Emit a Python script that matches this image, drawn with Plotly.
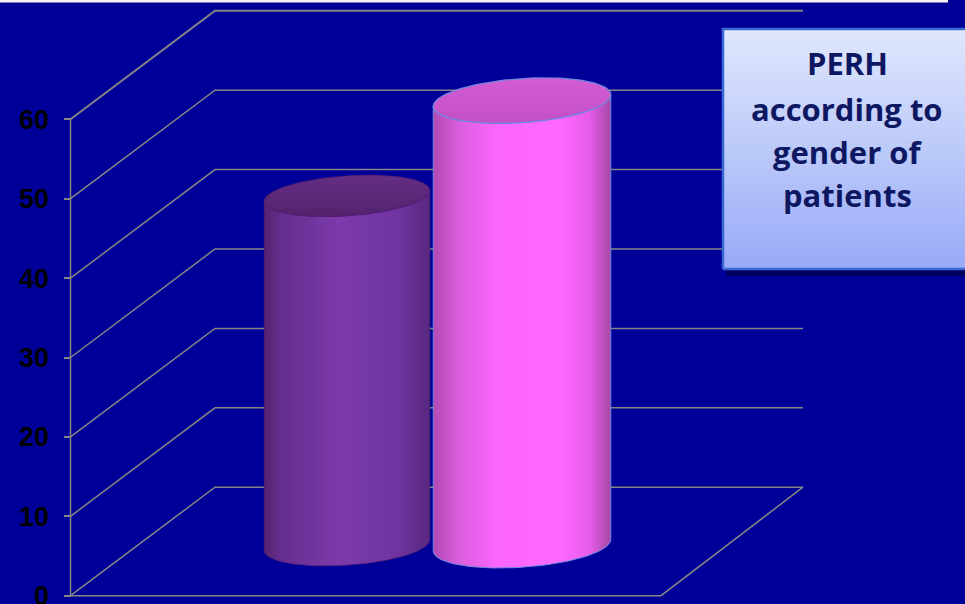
import numpy as np
import plotly.graph_objects as go

# ---- data -------------------------------------------------------------
categories = ["Male", "Female"]
values = [44, 56]
tick_values = [0, 10, 20, 30, 40, 50, 60]
title_lines = ["PERH", "according to", "gender of", "patients"]

# ---- layout constants (x in screen px, y in value units) ---------------
W, H = 965, 604
PX_PER_UNIT = 7.94
Y_ZERO_PX = 595.7                     # screen row of value 0 on the front axis
Y_MIN = -(H - Y_ZERO_PX) / PX_PER_UNIT
Y_MAX = Y_ZERO_PX / PX_PER_UNIT


def u(px):
    """screen pixels -> value units (vertical)"""
    return px / PX_PER_UNIT


AXIS_X = 70.5
FLOOR_RIGHT = 661.0
DEPTH_DX, DEPTH_DY = 143.0, u(108.5)
BACK_RIGHT = 803.0

BG = "#000098"
GRID = "#858585"

# cylinder styling
cyl_cx = [347, 522]
cyl_a = [83, 89]          # half width (px)
cyl_b = [20, 22]          # ellipse half height (px)
cyl_tilt = np.deg2rad(-4)
cyl_base = u(50.5)        # base centre raised by half the depth
side_scales = [
    [[0, "#542470"], [0.1, "#642d8e"], [0.45, "#7c3aaa"], [0.8, "#7034a2"], [1, "#582880"]],
    [[0, "#b24ab4"], [0.15, "#dc5ee0"], [0.38, "#fd66fd"], [0.7, "#ff68ff"], [0.88, "#e65ce8"], [1, "#a648a8"]],
]
top_scales = [
    [[0, "#53236c"], [1, "#652d86"]],
    [[0, "#c24fc6"], [1, "#d45cd6"]],
]
edge_colors = ["rgba(80,30,110,0.6)", "#7088e0"]

fig = go.Figure()

# ---- walls / grid -----------------------------------------------------
for v in tick_values:
    fig.add_trace(go.Scatter(
        x=[AXIS_X, AXIS_X + DEPTH_DX + 1.5, BACK_RIGHT],
        y=[v, v + DEPTH_DY, v + DEPTH_DY],
        mode="lines", line=dict(color=GRID, width=2 if v == tick_values[-1] else 1.5),
        hoverinfo="skip", showlegend=False))

# floor front + right edges
fig.add_trace(go.Scatter(
    x=[AXIS_X, FLOOR_RIGHT, FLOOR_RIGHT + DEPTH_DX - 1],
    y=[0, 0, DEPTH_DY],
    mode="lines", line=dict(color=GRID, width=1.5),
    hoverinfo="skip", showlegend=False))

# front value axis line
fig.add_trace(go.Scatter(
    x=[AXIS_X, AXIS_X], y=[0, tick_values[-1]],
    mode="lines", line=dict(color=GRID, width=1.5),
    hoverinfo="skip", showlegend=False))


# ---- cylinders --------------------------------------------------------
def ellipse(cx, cy, a, b, t):
    px = a * np.cos(t) * np.cos(cyl_tilt) - b * np.sin(t) * np.sin(cyl_tilt)
    py = a * np.cos(t) * np.sin(cyl_tilt) + b * np.sin(t) * np.cos(cyl_tilt)
    # screen y grows downward, value units grow upward
    return cx + px, cy - u(py)


for i, (name, val) in enumerate(zip(categories, values)):
    cx, a, b = cyl_cx[i], cyl_a[i], cyl_b[i]
    y_bot = cyl_base
    y_top = cyl_base + val

    t_front = np.linspace(np.pi, 0, 80)          # left -> right along front arc
    tx, ty = ellipse(cx, y_top, a, b, t_front)
    bx, by = ellipse(cx, y_bot, a, b, t_front[::-1])
    sx = np.concatenate([tx, bx, tx[:1]])
    sy = np.concatenate([ty, by, ty[:1]])
    fig.add_trace(go.Scatter(
        x=sx, y=sy, mode="lines", fill="toself",
        line=dict(color=edge_colors[i], width=1),
        fillgradient=dict(type="horizontal", colorscale=side_scales[i]),
        name=name, hoverinfo="skip", showlegend=False))

    t_all = np.linspace(0, 2 * np.pi, 160)
    ex, ey = ellipse(cx, y_top, a, b, t_all)
    fig.add_trace(go.Scatter(
        x=ex, y=ey, mode="lines", fill="toself",
        line=dict(color=edge_colors[i], width=1.2),
        fillgradient=dict(type="vertical", colorscale=top_scales[i],
                          start=float(ey.min()), stop=float(ey.max())),
        name=name, hoverinfo="skip", showlegend=False))

# ---- title box --------------------------------------------------------
BOX_X0, BOX_X1 = 723, 972
BOX_Y0, BOX_Y1 = Y_MAX - u(269), Y_MAX - u(29)

# soft drop shadow
fig.add_trace(go.Scatter(
    x=[BOX_X0 + 3, BOX_X1 + 3, BOX_X1 + 3, BOX_X0 + 3, BOX_X0 + 3],
    y=[BOX_Y0 - u(7), BOX_Y0 - u(7), BOX_Y1 - u(4), BOX_Y1 - u(4), BOX_Y0 - u(7)],
    mode="lines", fill="toself", fillcolor="rgba(0,0,50,0.55)",
    line=dict(width=0), hoverinfo="skip", showlegend=False))

fig.add_trace(go.Scatter(
    x=[BOX_X0, BOX_X1, BOX_X1, BOX_X0, BOX_X0],
    y=[BOX_Y0, BOX_Y0, BOX_Y1, BOX_Y1, BOX_Y0],
    mode="lines", fill="toself",
    line=dict(color="#3a68d2", width=2.5),
    fillgradient=dict(type="vertical",
                      colorscale=[[0, "#98a9f8"], [0.5, "#bccaf9"], [1, "#e0e7fd"]],
                      start=BOX_Y0, stop=BOX_Y1),
    hoverinfo="skip", showlegend=False))

line_px = [63, 109, 152, 195]
for txt, py in zip(title_lines, line_px):
    fig.add_annotation(
        x=847, y=Y_MAX - u(py), text=f"<b>{txt}</b>", showarrow=False,
        xanchor="center", yanchor="middle",
        font=dict(family="Open Sans", size=31, color="#0e1862"))

# thin strip along the top edge
fig.add_shape(type="rect", xref="x", yref="paper", x0=0, x1=948, y0=1 - 2.5 / H, y1=1.01,
              fillcolor="#f4f4f4", line=dict(width=0))

fig.update_layout(
    width=W, height=H,
    margin=dict(l=0, r=0, t=0, b=0, autoexpand=False),
    paper_bgcolor=BG, plot_bgcolor=BG,
    showlegend=False,
    xaxis=dict(range=[0, W], visible=False, fixedrange=True, automargin=False),
    yaxis=dict(
        range=[Y_MIN, Y_MAX], anchor="free", position=AXIS_X / W,
        automargin=False,
        tickmode="array", tickvals=tick_values, ticktext=[str(v) for v in tick_values],
        ticks="outside", ticklen=7, tickwidth=1.5, tickcolor=GRID,
        showgrid=False, zeroline=False, showline=False,
        ticklabelstandoff=9, ticklabeloverflow="allow",
        tickfont=dict(family="Liberation Sans", size=27, color="#000000", weight="bold"),
        fixedrange=True),
)

fig.write_html("out.html")
